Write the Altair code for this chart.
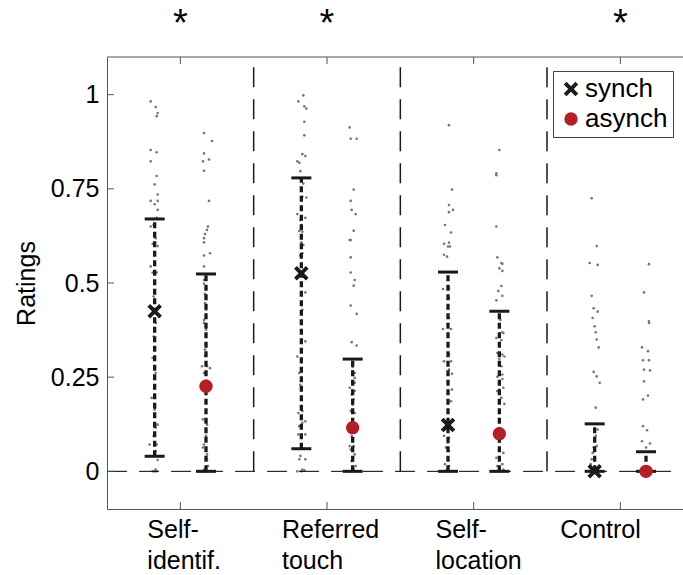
import altair as alt
import pandas as pd

FONT = "Liberation Sans"

# ---------------- data ----------------
groups = [1, 2, 3, 4]
group_labels = ["Self-\nidentif.", "Referred\ntouch", "Self-\nlocation", "Control"]
label_shift = [-0.225, -0.307, -0.26, -0.41]
significant = [True, True, False, True]

conditions = ["synch", "asynch"]
side = {"synch": -0.175, "asynch": 0.175}

synch_median = [0.425, 0.526, 0.123, 0.0]
synch_lo = [0.04, 0.06, 0.0, 0.0]
synch_hi = [0.67, 0.779, 0.529, 0.126]
asynch_median = [0.226, 0.116, 0.10, 0.0]
asynch_lo = [0.0, 0.0, 0.0, 0.0]
asynch_hi = [0.524, 0.298, 0.425, 0.052]

# individual ratings (values) and horizontal jitter (px) per column
g1_synch = [0.982, 0.967, 0.951, 0.943, 0.853, 0.847, 0.823, 0.784, 0.762, 0.735, 0.718, 0.718, 0.709, 0.694,
            0.673, 0.654, 0.65, 0.632, 0.619, 0.604, 0.598, 0.581, 0.544, 0.528, 0.528, 0.5, 0.464, 0.394, 0.358,
            0.301, 0.261, 0.195, 0.164, 0.124, 0.116, 0.094, 0.071, 0.071, 0.054, 0.03, 0.005, 0, 0, 0]
g1_synch_j = [-4, 1, 3, 2, -4, 2, -4, 2, 0, 3, -4, 3, 0, 3, 2, -1, -4, 0, 1, -2, 3, 0, -4, 2, -2, 0, -1, 1, -1,
              -2, 1, -3, 0, 3, 1, -1, -5, 2, 1, 3, 1, -2, 2, 0]
g1_asynch = [0.898, 0.877, 0.844, 0.828, 0.823, 0.798, 0.718, 0.65, 0.641, 0.63, 0.619, 0.608, 0.579, 0.573,
             0.544, 0.508, 0.498, 0.486, 0.471, 0.447, 0.429, 0.402, 0.394, 0.376, 0.336, 0.323, 0.307, 0.279,
             0.279, 0.274, 0.261, 0.138, 0.133, 0.124, 0.094, 0.071, 0.063, 0.045, 0.032, 0.014, 0.005, 0, 0, 0, 0]
g1_asynch_j = [-2, 6, -2, 3, -3, -2, 3, 2, 1, -1, -2, -2, 4, -2, -2, -2, -2, 0, -1, -1, 0, -2, -2, 0, 0, -1, -1,
               1, -4, 4, -2, -3, 0, 1, 0, -2, -3, 1, 1, 2, -2, -3, 1, 3, -1]
g2_synch = [0.998, 0.982, 0.969, 0.963, 0.928, 0.892, 0.842, 0.837, 0.823, 0.819, 0.797, 0.764, 0.729, 0.727,
            0.683, 0.673, 0.667, 0.654, 0.638, 0.636, 0.608, 0.601, 0.579, 0.573, 0.544, 0.475, 0.429, 0.345,
            0.305, 0.289, 0.261, 0.23, 0.16, 0.155, 0.133, 0.129, 0.12, 0.098, 0.098, 0.041, 0.032, 0.032, 0.005,
            0, 0.003, 0]
g2_synch_j = [2, -3, 3, 5, 3, 3, 1, 4, -4, -2, -1, 2, 1, 5, -4, 4, -1, 0, -2, 1, 0, 2, 1, -1, 0, 4, 1, 4, -4, 0,
              -2, -1, 1, -3, 4, 1, -2, -3, 4, -1, 4, -2, 1, -4, 3, 0]
g2_asynch = [0.913, 0.883, 0.883, 0.748, 0.718, 0.694, 0.683, 0.639, 0.614, 0.614, 0.568, 0.528, 0.508, 0.493,
             0.44, 0.418, 0.343, 0.334, 0.277, 0.261, 0.248, 0.235, 0.222, 0.213, 0.204, 0.191, 0.177, 0.16,
             0.155, 0.129, 0.116, 0.094, 0.08, 0.067, 0.067, 0.058, 0.045, 0.027, 0.014, 0.005, 0.001, 0, 0, 0]
g2_asynch_j = [-3, -2, 4, 1, -2, -1, 3, 1, -3, -2, -2, -2, 2, 1, -2, 4, -1, 4, 0, 2, 2, 2, -3, 2, -1, 1, 0, -2,
               2, 0, 3, -1, 0, 1, -3, -2, 2, -1, 3, 1, -2, -1, 2, -3]
g3_synch = [0.919, 0.748, 0.707, 0.694, 0.688, 0.654, 0.634, 0.607, 0.604, 0.597, 0.597, 0.575, 0.57, 0.486,
            0.484, 0.46, 0.407, 0.378, 0.378, 0.336, 0.31, 0.292, 0.292, 0.27, 0.259, 0.235, 0.217, 0.186, 0.094,
            0.089, 0.076, 0.063, 0.054, 0.032, 0.019, 0.014, 0.005, 0, 0, 0, 0]
g3_synch_j = [1, 4, 1, 5, 1, -3, 3, 1, -4, 0, 2, -4, -1, 1, -5, 1, 1, -5, 3, 0, 1, -4, 3, 1, 4, 0, 4, 3, -4, 1,
              0, -2, 1, 0, -3, 1, -1, -2, 2, 0, -4]
g3_asynch = [0.853, 0.791, 0.786, 0.65, 0.568, 0.553, 0.551, 0.539, 0.532, 0.492, 0.479, 0.466, 0.454, 0.402,
             0.369, 0.367, 0.354, 0.348, 0.314, 0.31, 0.305, 0.298, 0.279, 0.257, 0.251, 0.245, 0.222, 0.217,
             0.213, 0.195, 0.179, 0.098, 0.049, 0.036, 0.036, 0.019, 0.014, 0.005, 0, 0, 0, 0]
g3_asynch_j = [0, -3, -3, -3, -2, 2, 3, 0, 3, 2, -1, 3, -3, 1, 3, 4, -3, 2, -2, 3, 5, 0, 2, 3, -2, 3, 4, 0, -2,
               2, 5, -3, 4, 0, -3, 3, -2, 4, -2, 2, 4, -4]
g4_synch = [0.725, 0.598, 0.553, 0.548, 0.466, 0.433, 0.424, 0.407, 0.385, 0.369, 0.35, 0.329, 0.264, 0.252,
            0.235, 0.169, 0.126, 0.111, 0.094, 0.067, 0.063, 0.049, 0.032, 0.019, 0, 0, 0, 0, 0, 0, 0, 0]
g4_synch_j = [-3, 2, -5, 3, -3, -1, 3, -2, 0, 1, 2, 4, -1, 2, 5, 1, 2, 3, 1, 2, -1, -2, -3, -4, -4, -2, 0, 2, 4,
              -3, 1, 3]
g4_asynch = [0.55, 0.475, 0.398, 0.394, 0.329, 0.319, 0.295, 0.295, 0.27, 0.268, 0.239, 0.201, 0.191, 0.12,
             0.109, 0.08, 0.074, 0.063, 0, 0, 0, 0, 0, 0, 0, 0]
g4_asynch_j = [3, -2, 3, 3, -4, 2, -3, 3, -2, 4, -2, 2, -3, -3, 1, -4, 4, 0, -4, -2, 0, 2, 4, -3, 1, 3]

y_ticks = [0, 0.25, 0.5, 0.75, 1]
separators = [1.5, 2.5, 3.5]

# ---------------- build tables ----------------
W, H = 576, 452
PX_PER_UNIT = 146.67
XDOM = [0.5, 0.5 + W / PX_PER_UNIT]
YDOM = [-0.1, 1.1]

cols = [
    (1, "synch", g1_synch, g1_synch_j), (1, "asynch", g1_asynch, g1_asynch_j),
    (2, "synch", g2_synch, g2_synch_j), (2, "asynch", g2_asynch, g2_asynch_j),
    (3, "synch", g3_synch, g3_synch_j), (3, "asynch", g3_asynch, g3_asynch_j),
    (4, "synch", g4_synch, g4_synch_j), (4, "asynch", g4_asynch, g4_asynch_j),
]
rows = []
for g, c, vals, jit in cols:
    for v, j in zip(vals, jit):
        rows.append({"x": g + side[c] + j / PX_PER_UNIT, "rating": v, "cond": c})
pts = pd.DataFrame(rows)

summ_rows = []
for i, g in enumerate(groups):
    summ_rows.append({"x": g + side["synch"], "cond": "synch", "med": synch_median[i],
                      "lo": synch_lo[i], "hi": synch_hi[i]})
    summ_rows.append({"x": g + side["asynch"], "cond": "asynch", "med": asynch_median[i],
                      "lo": asynch_lo[i], "hi": asynch_hi[i]})
summ = pd.DataFrame(summ_rows)

grp = pd.DataFrame({"g": groups, "label": group_labels,
                    "lx": [g + s for g, s in zip(groups, label_shift)],
                    "sig": significant})
sig_df = grp[grp["sig"]]
ytk = pd.DataFrame({"v": y_ticks})
sep = pd.DataFrame({"b": separators, "y0": [0.0] * 3, "y1": [YDOM[1]] * 3})
one = pd.DataFrame({"v": [0.0]})

xs = alt.Scale(domain=XDOM, nice=False, zero=False)
ys = alt.Scale(domain=YDOM, nice=False, zero=False)

XPATH = "M-1,-0.62L-0.62,-1L0,-0.38L0.62,-1L1,-0.62L0.38,0L1,0.62L0.62,1L0,0.38L-0.62,1L-1,0.62L-0.38,0Z"
RED = "#b41f24"
DARK = "#1a1a1a"
AXC = "#555555"

x_enc = alt.X("x:Q", scale=xs, axis=alt.Axis(labels=False, ticks=False, grid=False, title=None,
                                               domainColor=AXC, domainWidth=1))
y_axis = alt.Axis(values=y_ticks, format="~g", ticks=False, grid=False, domainColor=AXC, domainWidth=1,
                  labelFont=FONT, labelFontSize=25, labelColor="black", labelPadding=8,
                  title="Ratings", titleFont=FONT, titleFontSize=25, titleFontWeight="normal",
                  titleColor="black", titlePadding=11)

base_pts = alt.Chart(pts).mark_circle(size=7, color="#777777", opacity=1).encode(
    x=x_enc, y=alt.Y("rating:Q", scale=ys, axis=y_axis))

zero_line = alt.Chart(one).mark_rule(color="black", strokeWidth=1, strokeDash=[20, 12]).encode(
    y=alt.Y("v:Q", scale=ys), x=alt.value(0), x2=alt.value(W))

sep_lines = alt.Chart(sep).mark_rule(color=DARK, strokeWidth=1.5, strokeDash=[20, 12]).encode(
    x=alt.X("b:Q", scale=xs), y=alt.Y("y0:Q", scale=ys), y2="y1:Q")

err = alt.Chart(summ).mark_rule(color=DARK, strokeWidth=3.3, strokeDash=[6, 3.5], opacity=1).encode(
    x=alt.X("x:Q", scale=xs), y=alt.Y("lo:Q", scale=ys), y2="hi:Q")
cap_lo = alt.Chart(summ).mark_tick(color=DARK, orient="horizontal", size=20, thickness=3, opacity=1).encode(
    x=alt.X("x:Q", scale=xs), y=alt.Y("lo:Q", scale=ys))
cap_hi = alt.Chart(summ).mark_tick(color=DARK, orient="horizontal", size=20, thickness=3, opacity=1).encode(
    x=alt.X("x:Q", scale=xs), y=alt.Y("hi:Q", scale=ys))

leg = alt.Legend(title=None, orient="none", legendX=446, legendY=14, direction="vertical",
                 labelFont=FONT, labelFontSize=26, labelColor="black", strokeColor="#444",
                 fillColor="white", padding=5, rowPadding=4, symbolSize=150, symbolStrokeWidth=0,
                 labelOffset=1, labelLimit=200, labelExpr="datum.label + '\u00a0'")
meds = alt.Chart(summ).mark_point(filled=True, opacity=1, strokeWidth=0).encode(
    x=alt.X("x:Q", scale=xs), y=alt.Y("med:Q", scale=ys),
    color=alt.Color("cond:N", scale=alt.Scale(domain=conditions, range=[DARK, RED]), legend=leg),
    shape=alt.Shape("cond:N", scale=alt.Scale(domain=conditions, range=[XPATH, "circle"]), legend=leg),
    size=alt.Size("cond:N", scale=alt.Scale(domain=conditions, range=[210, 180]), legend=None))

y_tick_marks = alt.Chart(ytk).mark_rule(color=AXC, strokeWidth=1).encode(
    y=alt.Y("v:Q", scale=ys), x=alt.value(0), x2=alt.value(7))
top_border = alt.Chart(one).mark_rule(color=AXC, strokeWidth=1).encode(
    y=alt.value(0), x=alt.value(0), x2=alt.value(W))
top_ticks = alt.Chart(grp).mark_rule(color=AXC, strokeWidth=1).encode(
    x=alt.X("g:Q", scale=xs), y=alt.value(0), y2=alt.value(7))
bot_ticks = alt.Chart(grp).mark_rule(color=AXC, strokeWidth=1).encode(
    x=alt.X("g:Q", scale=xs), y=alt.value(H), y2=alt.value(H - 7))

xlabels = alt.Chart(grp).mark_text(font=FONT, fontSize=25, color="black", align="left", baseline="top",
                                   lineBreak="\n", lineHeight=31).encode(
    x=alt.X("lx:Q", scale=xs), y=alt.value(H + 9), text="label:N")
stars = alt.Chart(sig_df).mark_text(font=FONT, fontSize=38, color="black", align="center",
                                    baseline="middle").encode(
    x=alt.X("g:Q", scale=xs), y=alt.value(-32), text=alt.value("*"))

chart = alt.layer(
    base_pts, zero_line, sep_lines, err, cap_lo, cap_hi, meds,
    y_tick_marks, top_border, top_ticks, bot_ticks, xlabels, stars
).properties(
    width=W, height=H,
    autosize=alt.AutoSizeParams(type="none"),
    padding={"left": 107, "top": 57, "right": 0, "bottom": 66},
).configure_view(stroke=None)

chart.save("out.html", embed_options={"renderer": "svg", "actions": False})
